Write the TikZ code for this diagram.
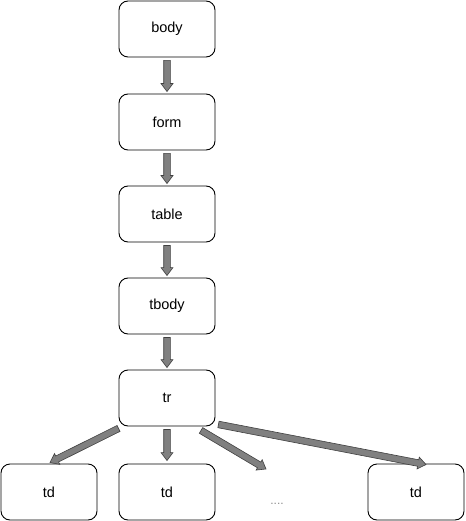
\documentclass[tikz,border=0pt]{standalone}
\usepackage{fontspec}
\setmainfont{Liberation Sans}
\usetikzlibrary{calc}
\tikzset{
  box/.style={draw=black, line width=0.9pt, rounded corners=9pt, minimum width=96pt, minimum height=56pt, inner sep=0pt, font=\fontsize{14.5}{16}\selectfont, fill=white},
  blockfill/.style={fill=black!50, draw=black!75, line width=0.6pt, line join=miter},
}
\newcommand\blockarr[2]{%
  \coordinate (ba-s) at (#1);
  \coordinate (ba-e) at (#2);
  \coordinate (ba-h) at ($(ba-e)!8pt!(ba-s)$);
  \filldraw[blockfill] ($(ba-s)!3.3pt!90:(ba-e)$) -- ($(ba-h)!3.3pt!-90:(ba-s)$) -- ($(ba-h)!6pt!-90:(ba-s)$) -- (ba-e) -- ($(ba-h)!6pt!90:(ba-s)$) -- ($(ba-h)!3.3pt!90:(ba-s)$) -- ($(ba-s)!3.3pt!-90:(ba-e)$) -- cycle;}
\begin{document}
\begin{tikzpicture}[x=1pt,y=-1pt]
\useasboundingbox (0,0) rectangle (465,521);
\node[box] (body) at (167,29) {body};
\node[box] (form) at (167,122) {form};
\node[box] (table) at (167,214) {table};
\node[box] (tbody) at (167,306) {tbody};
\node[box] (tr) at (167,398) {tr};
\node[box] (td1) at (49,492) {td};
\node[box] (td2) at (167,492) {td};
\node[box] (td4) at (416,492) {td};
\node[font=\fontsize{12}{13}\selectfont, text=black!45] (dots) at (277,504) {....};
\coordinate (more) at (266,469);
\blockarr{$(body.south)+(0,3)$}{$(form.north)+(0,-2)$}
\blockarr{$(form.south)+(0,3)$}{$(table.north)+(0,-2)$}
\blockarr{$(table.south)+(0,3)$}{$(tbody.north)+(0,-2)$}
\blockarr{$(tbody.south)+(0,3)$}{$(tr.north)+(0,-2)$}
\blockarr{$(tr.south west)+(0,2)$}{$(td1.north)+(1,-1)$}
\blockarr{$(tr.south)+(0,3)$}{$(td2.north)+(0,-3)$}
\blockarr{$(tr.south)+(34,4)$}{more}
\blockarr{$(tr.south east)+(3,-2)$}{$(td4.north)+(10,1)$}
\end{tikzpicture}
\end{document}
